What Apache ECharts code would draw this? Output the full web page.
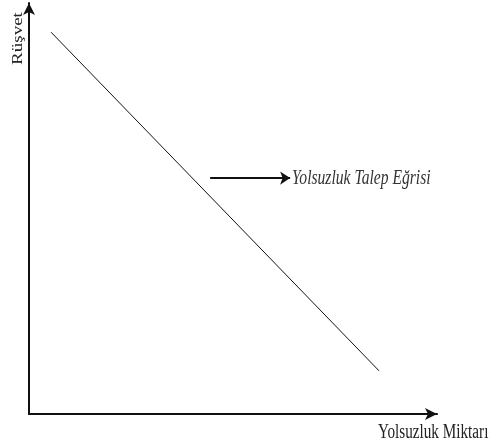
<!DOCTYPE html>
<html>
<head>
<meta charset="utf-8">
<script src="https://cdn.jsdelivr.net/npm/echarts@6/dist/echarts.min.js"></script>
<style>
  html, body { margin: 0; padding: 0; background: #fff; }
  #chart { width: 490px; height: 446px; }
</style>
</head>
<body>
<div id="chart"></div>
<script>
// talep egrisi (iki uc nokta)
var demandX = [5.4, 85.8];
var demandY = [92.9, 10.5];
// ok isareti
var arrowX = [44.4, 64.0];
var arrowY = 57.4;
var curveName = 'Yolsuzluk Talep Eğrisi';
var xName = 'Yolsuzluk Miktarı';
var yName = 'Rüşvet';

var chart = echarts.init(document.getElementById('chart'));

var lineData = [];
for (var i = 0; i < demandX.length; i++) {
    lineData.push([demandX[i], demandY[i]]);
}

var option = {
    animation: false,
    grid: { left: 29, right: 53, top: 3, bottom: 32 },
    xAxis: {
        type: 'value', min: 0, max: 100,
        axisLine: { lineStyle: { color: '#111', width: 2 }, symbol: ['none', 'arrow'], symbolSize: [9, 12] },
        axisTick: { show: false }, axisLabel: { show: false }, splitLine: { show: false }
    },
    yAxis: {
        type: 'value', min: 0, max: 100,
        axisLine: { lineStyle: { color: '#111', width: 2 }, symbol: ['none', 'arrow'], symbolSize: [9, 12] },
        axisTick: { show: false }, axisLabel: { show: false }, splitLine: { show: false }
    },
    series: [
        {
            type: 'line',
            data: lineData,
            symbol: 'none',
            lineStyle: { color: '#111', width: 1 },
            markLine: {
                silent: true,
                symbol: ['none', 'arrow'],
                symbolSize: 10,
                lineStyle: { color: '#111', width: 2, type: 'solid' },
                label: { show: false },
                data: [[
                    { coord: [arrowX[0], arrowY] },
                    { coord: [arrowX[1], arrowY] }
                ]]
            }
        }
    ]
};

chart.setOption(option);

// yazilar: orijinal resim yatayda sikistirilmis, o yuzden scale
var tip = chart.convertToPixel({ gridIndex: 0 }, [arrowX[1], arrowY]);
chart.setOption({
    graphic: [
        {
            type: 'text', x: 18, y: 38.5, rotation: Math.PI / 2, scaleY: 0.75,
            style: { text: yName, font: '19px "Liberation Serif"', fill: '#222', align: 'center', verticalAlign: 'middle' }
        },
        {
            type: 'text', x: 378, y: 433, scaleX: 0.76,
            style: { text: xName, font: '20px "Liberation Serif"', fill: '#222', align: 'left', verticalAlign: 'middle' }
        },
        {
            type: 'text', x: tip[0] + 2, y: tip[1] + 1, scaleX: 0.78,
            style: { text: curveName, font: 'italic 20px "Liberation Serif"', fill: '#333', align: 'left', verticalAlign: 'middle' }
        }
    ]
});
</script>
</body>
</html>
